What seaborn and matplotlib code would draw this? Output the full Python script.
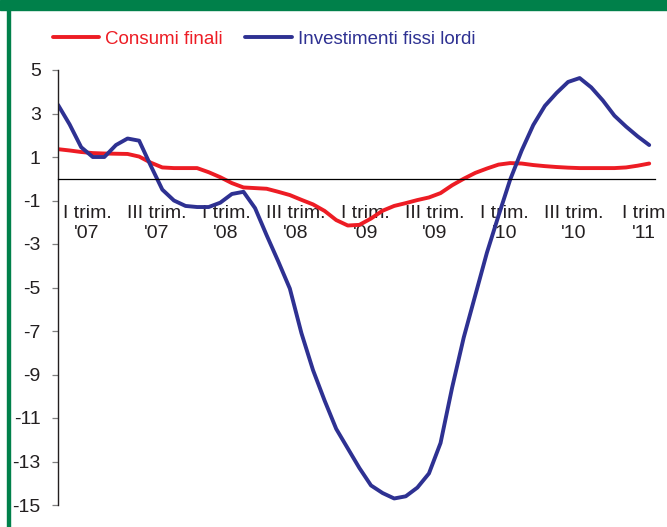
import numpy as np
import pandas as pd
import seaborn as sns
import matplotlib.pyplot as plt
from matplotlib.lines import Line2D

# monthly points, gen 2007 - apr 2011
mesi = list(range(52))
consumi = [1.36, 1.3, 1.23, 1.18, 1.16, 1.15, 1.14, 1.02, 0.74, 0.52,
           0.49, 0.49, 0.49, 0.3, 0.07, -0.2, -0.4, -0.43, -0.46, -0.6,
           -0.75, -0.97, -1.18, -1.48, -1.9, -2.15, -2.12, -1.83, -1.47, -1.25,
           -1.12, -0.98, -0.86, -0.66, -0.3, 0.0, 0.27, 0.47, 0.65, 0.72,
           0.7, 0.63, 0.58, 0.54, 0.51, 0.49, 0.49, 0.49, 0.49, 0.52,
           0.6, 0.7]
investimenti = [3.4, 2.5, 1.45, 1.0, 1.0, 1.55, 1.85, 1.75, 0.6, -0.5,
                -1.0, -1.25, -1.3, -1.3, -1.1, -0.7, -0.6, -1.35, -2.6, -3.8,
                -5.05, -7.1, -8.8, -10.2, -11.5, -12.4, -13.3, -14.1, -14.45, -14.7,
                -14.6, -14.2, -13.55, -12.15, -9.6, -7.3, -5.35, -3.4, -1.7, -0.05,
                1.3, 2.47, 3.35, 3.94, 4.45, 4.63, 4.2, 3.6, 2.9, 2.4,
                1.95, 1.55]
serie = ["Consumi finali", "Investimenti fissi lordi"]
colori = ["#ED1C24", "#2E3192"]
etichette = ["I trim.\n'07", "III trim.\n'07", "I trim.\n'08", "III trim.\n'08",
             "I trim.\n'09", "III trim.\n'09", "I trim.\n'10", "III trim.\n'10",
             "I trim\n'11"]
yticks = list(range(-15, 6, 2))

df = pd.DataFrame({
    "mese": mesi * 2,
    "valore": consumi + investimenti,
    "serie": [serie[0]] * len(mesi) + [serie[1]] * len(mesi),
})

sns.set_style("white")
plt.rcParams["font.family"] = ["Liberation Sans", "DejaVu Sans"]

fig = plt.figure(figsize=(6.67, 5.27), dpi=100)
ax = fig.add_axes([58 / 667, 1 - 505 / 527, 597 / 667, 435 / 527])

sns.lineplot(data=df, x="mese", y="valore", hue="serie", palette=colori,
             linewidth=2.8, ax=ax, legend=False)

ax.set_xlim(0, 51.5)
ax.set_ylim(-15, 5)
ax.set_yticks(yticks)
ax.set_yticklabels([str(v) for v in yticks])
ax.set_xticks([2.5 + 6 * k for k in range(len(etichette))])
ax.set_xticklabels(etichette, linespacing=1.0)
ax.set_xlabel("")
ax.set_ylabel("")

ax.spines["top"].set_visible(False)
ax.spines["right"].set_visible(False)
ax.spines["bottom"].set_position(("data", 0))
ax.spines["bottom"].set_linewidth(0.9)
ax.spines["bottom"].set_color("black")
ax.spines["left"].set_linewidth(1.0)
ax.spines["left"].set_color("#231F20")
ax.tick_params(axis="x", length=0, pad=19, labelsize=14, labelcolor="#231F20")
ax.tick_params(axis="y", length=4.5, width=0.9, color="#808080", pad=8, left=True,
               labelsize=14, labelcolor="#231F20")

# legenda
handles = [Line2D([], [], color=c, linewidth=2.8) for c in colori]
fig.legend(handles, serie, loc="center", bbox_to_anchor=(264 / 667, 1 - 39 / 527),
           ncol=2, frameon=False, fontsize=13.5, handlelength=2.5,
           handletextpad=0.32, columnspacing=1.17, labelcolor="linecolor")

# cornice verde
verde = "#00804A"
fig.patches.append(plt.Rectangle((0, 1 - 10 / 527), 1, 10 / 527, transform=fig.transFigure,
                                 color=verde, zorder=0))
fig.patches.append(plt.Rectangle((7 / 667, 0), 2.5 / 667, 1, transform=fig.transFigure,
                                 color=verde, zorder=0))

fig.savefig("out.png", dpi=100)
